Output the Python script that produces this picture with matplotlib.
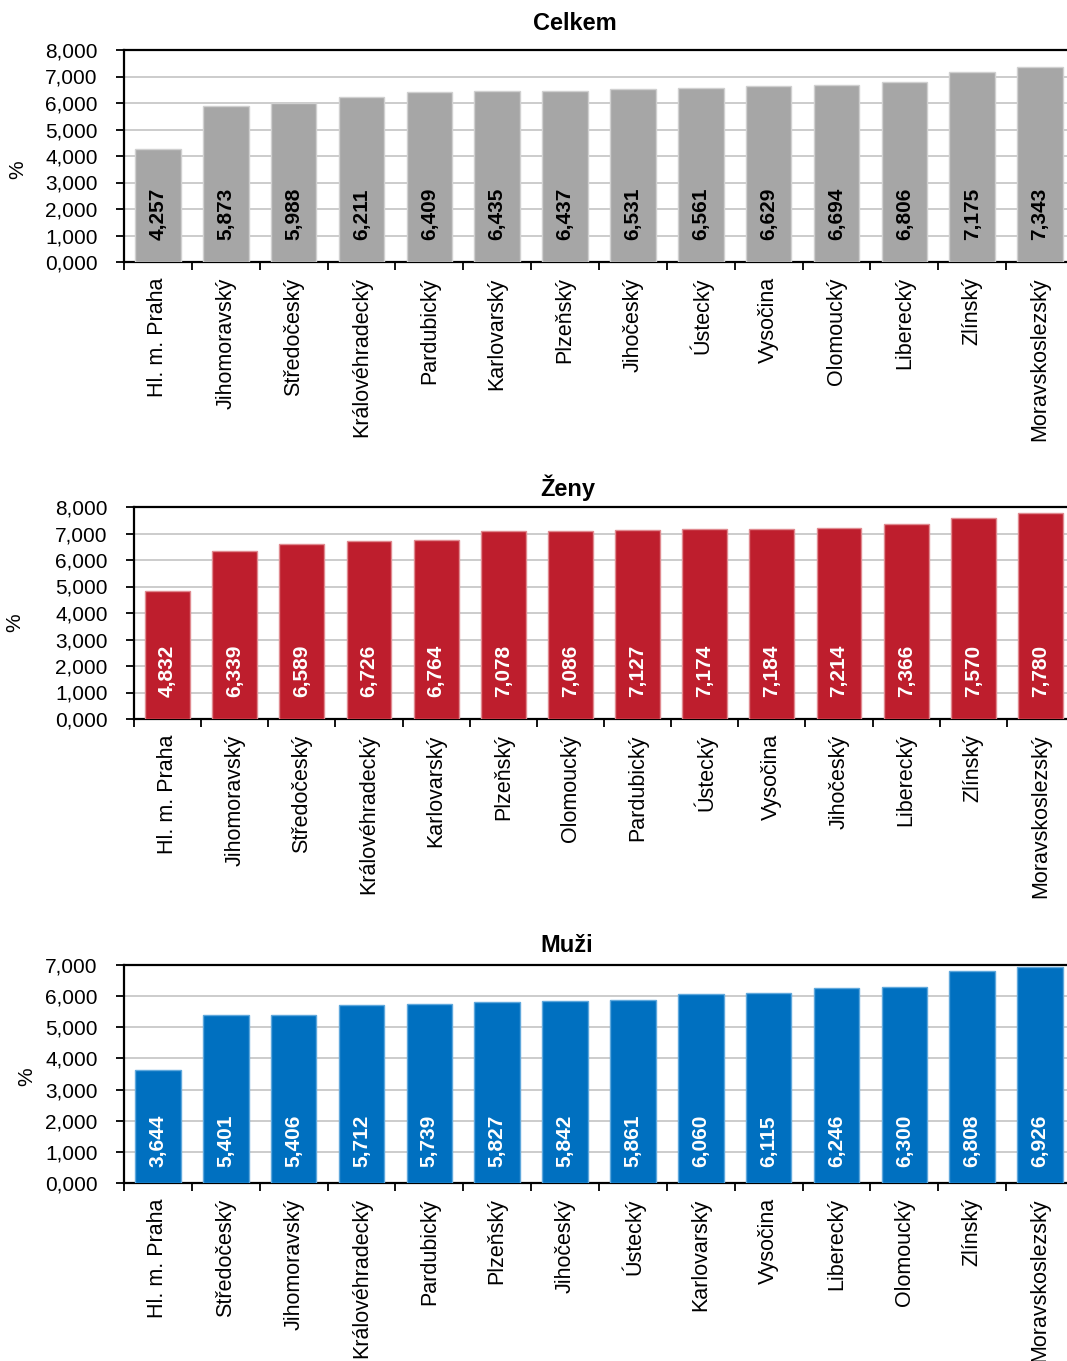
import numpy as np
import matplotlib
matplotlib.use('Agg')
import matplotlib.pyplot as plt

plt.rcParams['font.family'] = ['Liberation Sans', 'DejaVu Sans']

# data
kraje_celkem = ['Hl. m. Praha', 'Jihomoravský', 'Středočeský', 'Královéhradecký', 'Pardubický',
                'Karlovarský', 'Plzeňský', 'Jihočeský', 'Ústecký', 'Vysočina', 'Olomoucký',
                'Liberecký', 'Zlínský', 'Moravskoslezský']
hodnoty_celkem = [4.257, 5.873, 5.988, 6.211, 6.409, 6.435, 6.437, 6.531, 6.561, 6.629, 6.694,
                  6.806, 7.175, 7.343]

kraje_zeny = ['Hl. m. Praha', 'Jihomoravský', 'Středočeský', 'Královéhradecký', 'Karlovarský',
              'Plzeňský', 'Olomoucký', 'Pardubický', 'Ústecký', 'Vysočina', 'Jihočeský',
              'Liberecký', 'Zlínský', 'Moravskoslezský']
hodnoty_zeny = [4.832, 6.339, 6.589, 6.726, 6.764, 7.078, 7.086, 7.127, 7.174, 7.184, 7.214,
                7.366, 7.570, 7.780]

kraje_muzi = ['Hl. m. Praha', 'Středočeský', 'Jihomoravský', 'Královéhradecký', 'Pardubický',
              'Plzeňský', 'Jihočeský', 'Ústecký', 'Karlovarský', 'Vysočina', 'Liberecký',
              'Olomoucký', 'Zlínský', 'Moravskoslezský']
hodnoty_muzi = [3.644, 5.401, 5.406, 5.712, 5.739, 5.827, 5.842, 5.861, 6.060, 6.115, 6.246,
                6.300, 6.808, 6.926]

W, H = 1067, 1361
fig = plt.figure(figsize=(W / 100, H / 100), dpi=100)


def fx(px):
    return px / W


def fy(px):
    return 1 - px / H


def cz(v):
    return f'{v:,.3f}'.replace('.', ',')


panely = [
    # title, cats, vals, color, edge, text color, left, top, bottom, ymax, title x, title y, % x, % y, label offset
    ('Celkem', kraje_celkem, hodnoty_celkem, '#A6A6A6', '#D0D0D0', 'black', 124, 50, 262, 8, 575, 24, 18, 170, 16),
    ('Ženy', kraje_zeny, hodnoty_zeny, '#BE1E2D', '#E08A90', 'white', 134, 507, 719, 8, 568, 488, 15, 623, 16),
    ('Muži', kraje_muzi, hodnoty_muzi, '#0070C0', '#5FA8DC', 'white', 124, 965, 1183, 7, 567, 945, 27, 1077, 11.5),
]

for (nazev, kraje, hodnoty, barva, okraj, tbarva, left, top, bottom, ymax,
     tx, ty, px_, py_, off) in panely:
    # plot area runs a little past the right edge of the picture
    ax = fig.add_axes([fx(left), fy(bottom), fx(1074 - left), (bottom - top) / H])
    x = np.arange(len(kraje))
    ax.bar(x, hodnoty, width=0.67, color=barva, edgecolor=okraj, linewidth=1, zorder=3)
    ax.set_xlim(-0.5, len(kraje) - 0.5)
    ax.set_ylim(0, ymax)
    ax.set_yticks(np.arange(0, ymax + 1, 1))
    ax.set_yticklabels([cz(v) for v in np.arange(0, ymax + 1, 1)], fontsize=15)
    ax.grid(axis='y', color='#C8C8C8', linewidth=1.3, zorder=0)
    ax.set_xticks(x)
    ax.set_xticklabels(kraje, rotation=90, fontsize=15.5, va='top', ha='center')
    ax.set_xticks(np.arange(-0.5, len(kraje), 1), minor=True)
    ax.tick_params(axis='x', which='major', length=0, pad=11)
    ax.tick_params(axis='x', which='minor', length=6, width=1.3, direction='out')
    ax.tick_params(axis='y', length=6, width=1.3, direction='out', pad=13)
    for s in ['left', 'top', 'bottom']:
        ax.spines[s].set_linewidth(1.6)
    ax.spines['right'].set_visible(False)
    for xi, v in zip(x, hodnoty):
        ax.annotate(cz(v), xy=(xi, 0), xytext=(0, off), textcoords='offset points',
                    rotation=90, ha='center', va='bottom', fontsize=15,
                    fontweight='bold', color=tbarva, zorder=4)
    fig.text(fx(tx), fy(ty), nazev, ha='center', va='center', fontsize=17, fontweight='bold')
    fig.text(fx(px_), fy(py_), '%', ha='center', va='center', rotation=90, fontsize=15)

fig.savefig('out.png', dpi=100)
